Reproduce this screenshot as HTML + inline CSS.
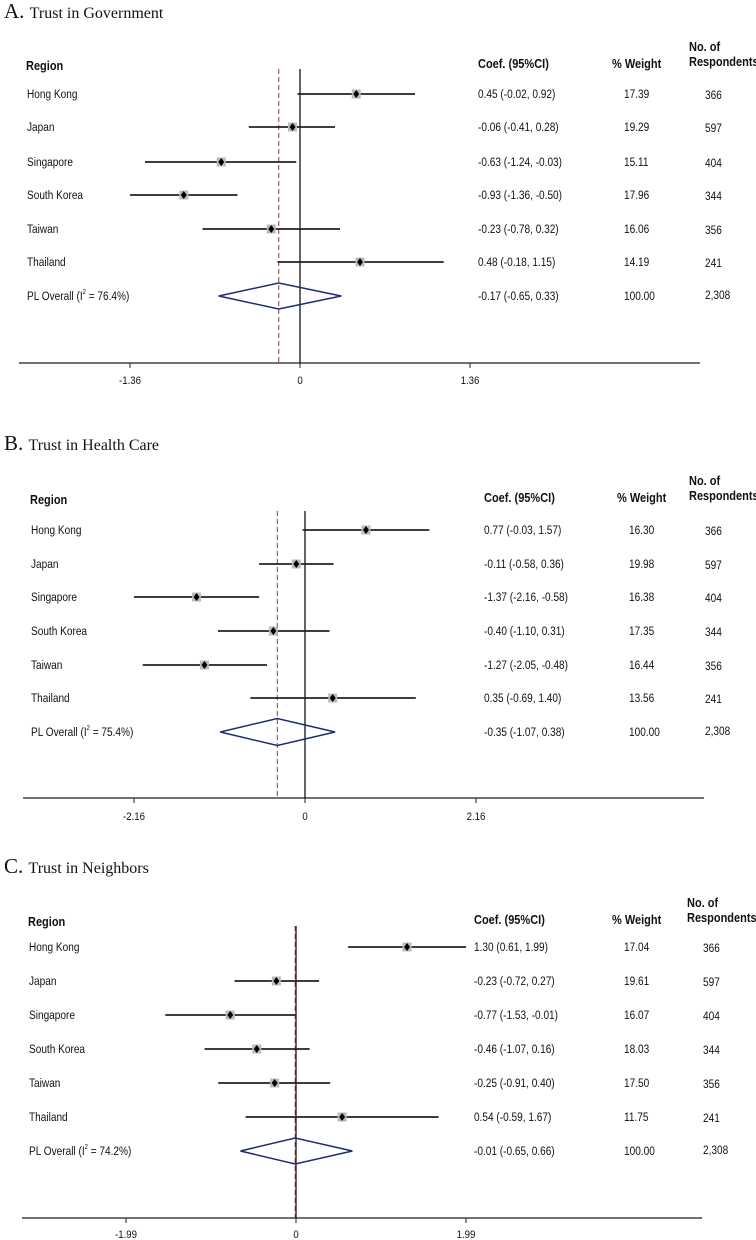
<!DOCTYPE html>
<html><head><meta charset="utf-8">
<style>
html,body{margin:0;padding:0;background:#fff;}
svg{display:block;}
text{font-family:"Liberation Sans",sans-serif;fill:#111;}
.t{font-family:"Liberation Serif",serif;}
</style></head>
<body>
<svg id="chart" width="756" height="1240" viewBox="0 0 756 1240" xmlns="http://www.w3.org/2000/svg"></svg>
<script>
const regions = ["Hong Kong","Japan","Singapore","South Korea","Taiwan","Thailand"];
const respondents = ["366","597","404","344","356","241"];
const totalRespondents = "2,308";
const titlesLetter = ["A.","B.","C."];
const titlesText = ["Trust in Government","Trust in Health Care","Trust in Neighbors"];
// Panel A
const coefA = [0.45,-0.06,-0.63,-0.93,-0.23,0.48];
const loA = [-0.02,-0.41,-1.24,-1.36,-0.78,-0.18];
const hiA = [0.92,0.28,-0.03,-0.50,0.32,1.15];
const weightA = ["17.39","19.29","15.11","17.96","16.06","14.19"];
const overallA = [-0.17,-0.65,0.33];
const i2A = "76.4%";
const tickA = 1.36;
// Panel B
const coefB = [0.77,-0.11,-1.37,-0.40,-1.27,0.35];
const loB = [-0.03,-0.58,-2.16,-1.10,-2.05,-0.69];
const hiB = [1.57,0.36,-0.58,0.31,-0.48,1.40];
const weightB = ["16.30","19.98","16.38","17.35","16.44","13.56"];
const overallB = [-0.35,-1.07,0.38];
const i2B = "75.4%";
const tickB = 2.16;
// Panel C
const coefC = [1.30,-0.23,-0.77,-0.46,-0.25,0.54];
const loC = [0.61,-0.72,-1.53,-1.07,-0.91,-0.59];
const hiC = [1.99,0.27,-0.01,0.16,0.40,1.67];
const weightC = ["17.04","19.61","16.07","18.03","17.50","11.75"];
const overallC = [-0.01,-0.65,0.66];
const i2C = "74.2%";
const tickC = 1.99;

const NS="http://www.w3.org/2000/svg";
const svg=document.getElementById('chart');
function mk(tag,attrs,parent){const e=document.createElementNS(NS,tag);for(const k in attrs)e.setAttribute(k,attrs[k]);(parent||svg).appendChild(e);return e;}
function fmt(v){return (v<0?"-":"")+Math.abs(v).toFixed(2);}
function txt(g,str,x,y,size,sx,extra){
 const t=mk('text',Object.assign({x:0,y:0,'font-size':size,transform:`translate(${x},${y}) scale(${sx},1)`},extra||{}),g);
 t.textContent=str;return t;
}

const layouts=[
 {titleY:18,hdrY:70,noY:55,rows:[94,127,162,195,229,262],ovY:296,ovH:13,axisY:363,tickY:384,vTop:69,zero:300,tickPx:170,axL:19,axR:700,regX:27,coefX:478,wX:624,nX:705},
 {titleY:450,hdrY:504,noY:489,rows:[530,564,597,631,665,698],ovY:732,ovH:13.5,axisY:798,tickY:820,vTop:511,zero:305,tickPx:171,axL:23,axR:704,regX:31,coefX:484,wX:629,nX:705},
 {titleY:873,hdrY:926,noY:911,rows:[947,981,1015,1049,1083,1117],ovY:1151,ovH:13,axisY:1218,tickY:1238,vTop:926,zero:296,tickPx:170,axL:22,axR:702,regX:29,coefX:474,wX:624,nX:703}
];
const panels=[
 {coef:coefA,lo:loA,hi:hiA,w:weightA,ov:overallA,i2:i2A,tick:tickA},
 {coef:coefB,lo:loB,hi:hiB,w:weightB,ov:overallB,i2:i2B,tick:tickB},
 {coef:coefC,lo:loC,hi:hiC,w:weightC,ov:overallC,i2:i2C,tick:tickC}
];
const SX=0.84, HX=0.88;

panels.forEach((p,pi)=>{
 const L=layouts[pi];
 const g=mk('g',{});
 
 
 const x=v=>L.zero+v*L.tickPx/p.tick;
 const tt=mk('text',{x:4,y:L.titleY,class:'t'},g);
 
 
 const ts1=mk('tspan',{'font-size':'21'},tt);ts1.textContent=titlesLetter[pi]+" ";
 const ts2=mk('tspan',{'font-size':'16'},tt);ts2.textContent=titlesText[pi];
 const hdr=(s,xx,yy,name)=>{const t=txt(g,s,xx,yy,'12.5',HX,{'font-weight':'bold'});return t;};
 hdr("Region",L.regX-1,L.hdrY,'region-header');
 hdr("Coef. (95%CI)",L.coefX,L.hdrY-2,'coef-header');
 hdr("% Weight",L.wX-12,L.hdrY-2,'weight-header');
 hdr("No. of",L.nX-16,L.noY-4,'respondents-header');
 hdr("Respondents",L.nX-16,L.noY+11,'respondents-header-2');
 const ax=mk('line',{x1:L.axL,x2:L.axR,y1:L.axisY,y2:L.axisY,stroke:'#444','stroke-width':1.5},g);
 
 
 [-p.tick,0,p.tick].forEach(v=>{
  const tk=mk('line',{x1:x(v),x2:x(v),y1:L.axisY,y2:L.axisY+5,stroke:'#222','stroke-width':1},g);
  
  
  const tl=txt(g,v===0?"0":fmt(v),x(v),L.tickY,'11.5',SX,{'text-anchor':'middle'});
  
  
 });
 const zl=mk('line',{x1:x(0),x2:x(0),y1:L.vTop,y2:L.axisY,stroke:'#000','stroke-width':1.2},g);
 
 
 const dl=mk('line',{x1:x(p.ov[0]),x2:x(p.ov[0]),y1:L.vTop,y2:L.axisY,stroke:'#8b3a3a','stroke-width':1,'stroke-dasharray':'5,3'},g);
 
 
 regions.forEach((r,i)=>{
  const y=L.rows[i];
  const rl=txt(g,r,L.regX,y+4,'12',SX);
  
  
  const ci=mk('line',{x1:x(p.lo[i]),x2:x(p.hi[i]),y1:y,y2:y,stroke:'#222','stroke-width':1.8},g);
  
  
  const sq=mk('rect',{x:x(p.coef[i])-4.5,y:y-4.5,width:9,height:9,fill:'#bbb'},g);
  
  
  const cx=x(p.coef[i]);
  const pt=mk('polygon',{points:`${cx},${y-4} ${cx+3},${y} ${cx},${y+4} ${cx-3},${y}`,fill:'#000'},g);
  
  
  const ct=txt(g,`${fmt(p.coef[i])} (${fmt(p.lo[i])}, ${fmt(p.hi[i])})`,L.coefX,y+4,'12',SX);
  
  
  const wt=txt(g,p.w[i],L.wX,y+4,'12',SX);
  
  
  const nt=txt(g,respondents[i],L.nX,y+5,'12',SX);
  
  
 });
 const y=L.ovY;
 const ol=mk('text',{x:0,y:0,'font-size':'12',transform:`translate(${L.regX},${y+4}) scale(${SX},1)`},g);
 
 
 const o1=mk('tspan',{},ol);o1.textContent="PL Overall  (I";
 const o2=mk('tspan',{'font-size':'7',dy:'-6'},ol);o2.textContent="2";
 const o3=mk('tspan',{dy:'6'},ol);o3.textContent=" = "+p.i2+")";
 const dm=mk('polygon',{points:`${x(p.ov[1])},${y} ${x(p.ov[0])},${y-L.ovH} ${x(p.ov[2])},${y} ${x(p.ov[0])},${y+L.ovH}`,fill:'none',stroke:'#1f2a7a','stroke-width':1.5},g);
 
 
 const oc=txt(g,`${fmt(p.ov[0])} (${fmt(p.ov[1])}, ${fmt(p.ov[2])})`,L.coefX,y+4,'12',SX);
 
 
 const ow=txt(g,"100.00",L.wX,y+4,'12',SX);
 
 
 const on=txt(g,totalRespondents,L.nX,y+3,'12',SX);
 
 
});
</script>
</body></html>
